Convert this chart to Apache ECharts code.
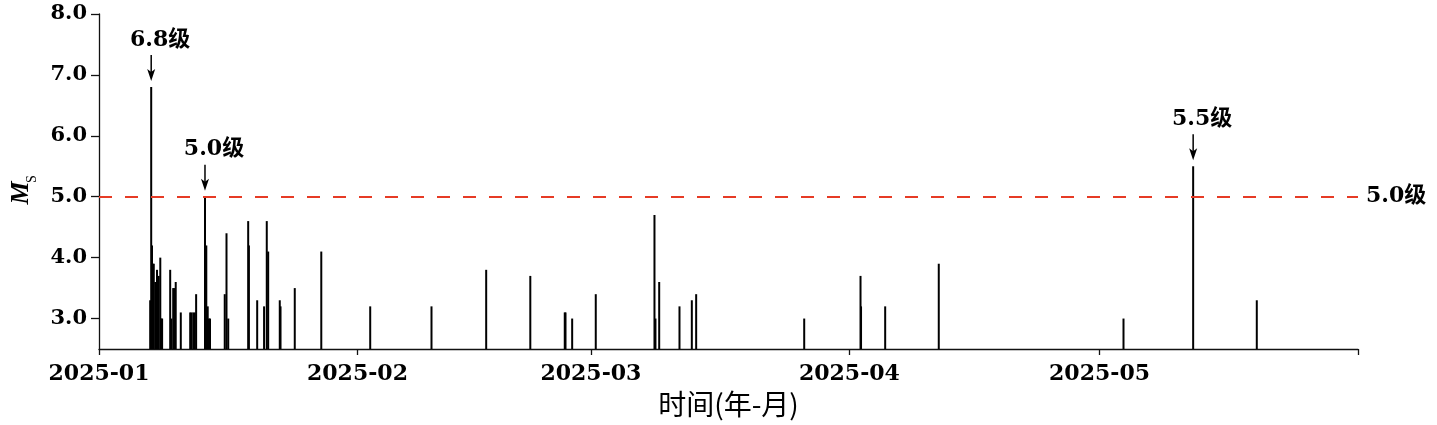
<!DOCTYPE html>
<html>
<head>
<meta charset="utf-8">
<script src="https://cdn.jsdelivr.net/npm/echarts@6/dist/echarts.min.js"></script>
<style>
html,body{margin:0;padding:0;background:#fff;}
#c{width:1437px;height:425px;}
</style>
</head>
<body>
<div id="c"></div>
<script>
// ---- data ----
const eventTimes = [
  '2025-01-07 03:20','2025-01-07 06:15','2025-01-07 08:35','2025-01-07 10:50','2025-01-07 13:40',
  '2025-01-07 18:00','2025-01-07 23:00','2025-01-08 01:10','2025-01-08 03:50','2025-01-08 08:25',
  '2025-01-08 11:20','2025-01-08 13:40','2025-01-09 12:55','2025-01-09 16:20','2025-01-09 21:35',
  '2025-01-10 00:45','2025-01-10 04:50','2025-01-10 19:25','2025-01-11 22:30','2025-01-12 02:10',
  '2025-01-12 07:25','2025-01-12 11:45','2025-01-12 15:35','2025-01-13 17:05','2025-01-13 20:50',
  '2025-01-14 00:55','2025-01-14 04:35','2025-01-14 07:30','2025-01-16 01:55','2025-01-16 07:00',
  '2025-01-16 12:00','2025-01-18 21:25','2025-01-18 23:30','2025-01-19 23:20','2025-01-20 19:10',
  '2025-01-21 02:55','2025-01-21 07:00','2025-01-22 16:20','2025-01-22 18:30','2025-01-24 11:30',
  '2025-01-27 15:50','2025-02-02 12:40','2025-02-09 21:05','2025-02-16 10:30','2025-02-21 17:30',
  '2025-02-25 20:40','2025-02-25 22:50','2025-02-26 18:00','2025-03-01 13:55','2025-03-08 14:55',
  '2025-03-08 17:45','2025-03-09 04:30','2025-03-11 14:55','2025-03-13 02:25','2025-03-13 14:55',
  '2025-03-26 13:55','2025-04-02 08:00','2025-04-02 09:30','2025-04-05 07:00','2025-04-11 17:15',
  '2025-05-03 21:00','2025-05-12 05:30','2025-05-19 20:40'
];
const eventMags = [
  3.3,6.8,4.2,3.9,3.9,
  3.6,3.8,3.3,3.7,4.0,
  3.0,3.0,3.8,3.0,3.5,
  3.5,3.6,3.1,3.1,3.1,
  3.1,3.1,3.4,5.0,4.2,
  3.2,3.0,3.0,3.4,4.4,
  3.0,4.6,4.2,3.3,3.2,
  4.6,4.1,3.3,3.2,3.5,
  4.1,3.2,3.2,3.8,3.7,
  3.1,3.1,3.0,3.4,4.7,
  3.0,3.6,3.2,3.3,3.4,
  3.0,3.7,3.2,3.2,3.9,
  3.0,5.5,3.3
];
const monthLabels = ['2025-01','2025-02','2025-03','2025-04','2025-05'];
const axisEndMonth = '2025-06';
const yTicks = [3.0, 4.0, 5.0, 6.0, 7.0, 8.0];
const yMin = 2.5;
const yMax = 8.0;
const thresholdValue = 5.0;
const thresholdLabel = '5.0级';
const peakTimes = ['2025-01-07 06:15','2025-01-13 17:05','2025-05-12 05:30'];
const peakMags = [6.8, 5.0, 5.5];
const peakLabels = ['6.8级','5.0级','5.5级'];
const xAxisName = '时间(年-月)';
const yAxisNameMain = 'M';
const yAxisNameSub = 'S';

// ---- chart ----
const NUM_FONT = '"DejaVu Serif", "Noto Sans CJK SC", serif';
const parse = s => +echarts.time.parse(s);
const monthStarts = monthLabels.map(m => parse(m + '-01'));
const endTs = parse(axisEndMonth + '-01');

const chart = echarts.init(document.getElementById('c'), null, {renderer: 'canvas'});
const axisColor = '#111';

chart.setOption({
  animation: false,
  backgroundColor: '#fff',
  grid: {left: 99, right: 79, top: 14, bottom: 76},
  xAxis: {
    type: 'value',
    min: monthStarts[0],
    max: endTs,
    scale: true,
    axisLine: {show: true, onZero: false, lineStyle: {color: axisColor, width: 1.3}},
    axisTick: {show: true, length: 6, customValues: monthStarts.concat([endTs]), lineStyle: {color: axisColor, width: 1.3}},
    axisLabel: {
      customValues: monthStarts,
      formatter: v => { const i = monthStarts.indexOf(v); return i >= 0 ? monthLabels[i] : ''; },
      fontFamily: NUM_FONT, fontWeight: 'bold', fontSize: 22, color: '#000', margin: 14
    },
    splitLine: {show: false},
    name: xAxisName,
    nameLocation: 'middle',
    nameGap: 41,
    nameTextStyle: {fontFamily: '"Noto Sans CJK SC", sans-serif', fontSize: 28, fontWeight: 'normal', color: '#000'}
  },
  yAxis: {
    type: 'value',
    min: yMin,
    max: yMax,
    axisLine: {show: true, onZero: false, lineStyle: {color: axisColor, width: 1.3}},
    axisTick: {show: true, length: 8, customValues: yTicks, lineStyle: {color: axisColor, width: 1.3}},
    axisLabel: {
      customValues: yTicks,
      formatter: v => Number(v).toFixed(1),
      fontFamily: NUM_FONT, fontWeight: 'bold', fontSize: 21, color: '#000', margin: 12
    },
    splitLine: {show: false}
  },
  series: [{
    type: 'custom',
    silent: true,
    clip: true,
    data: eventTimes.map((t, i) => [parse(t), eventMags[i]]),
    encode: {x: 0, y: 1},
    renderItem: (params, api) => {
      const top = api.coord([api.value(0), api.value(1)]);
      const base = api.coord([api.value(0), yMin]);
      return {type: 'line', shape: {x1: top[0], y1: top[1], x2: base[0], y2: base[1]},
              style: {stroke: '#000', lineWidth: 2}};
    },
    markLine: {
      silent: true,
      symbol: ['none', 'none'],
      data: [{yAxis: thresholdValue}],
      lineStyle: {color: '#e63b25', width: 2, type: [13, 13]},
      label: {
        show: true, position: 'end', distance: 8, formatter: thresholdLabel,
        fontFamily: NUM_FONT, fontWeight: 'bold', fontSize: 22, color: '#000'
      }
    }
  }]
});

const g = [];
peakTimes.forEach((t, i) => {
  const p = chart.convertToPixel({gridIndex: 0}, [parse(t), peakMags[i]]);
  const x = p[0];
  const tipY = p[1] - 6;
  g.push({type: 'line', silent: true, shape: {x1: x, y1: p[1] - 32, x2: x, y2: tipY - 4},
          style: {stroke: '#000', lineWidth: 1.5}});
  g.push({type: 'polygon', silent: true,
          shape: {points: [[x - 4, tipY - 12], [x, tipY], [x + 4, tipY - 12], [x, tipY - 9]]},
          style: {fill: '#000'}});
  g.push({type: 'text', silent: true, x: x + 9, y: p[1] - 47,
          style: {text: peakLabels[i], fill: '#000', align: 'center', verticalAlign: 'middle',
                  font: 'bold 22px "DejaVu Serif", "Noto Sans CJK SC", serif'}});
});
g.push({type: 'text', silent: true, x: 21, y: 193, rotation: Math.PI / 2,
        style: {text: yAxisNameMain, fill: '#000', align: 'center', verticalAlign: 'middle',
                font: 'italic bold 26px "Liberation Serif", serif'}});
g.push({type: 'text', silent: true, x: 32, y: 179, rotation: Math.PI / 2,
        style: {text: yAxisNameSub, fill: '#000', align: 'center', verticalAlign: 'middle',
                font: '14px "Liberation Serif", serif'}});
chart.setOption({graphic: g});
</script>
</body>
</html>
